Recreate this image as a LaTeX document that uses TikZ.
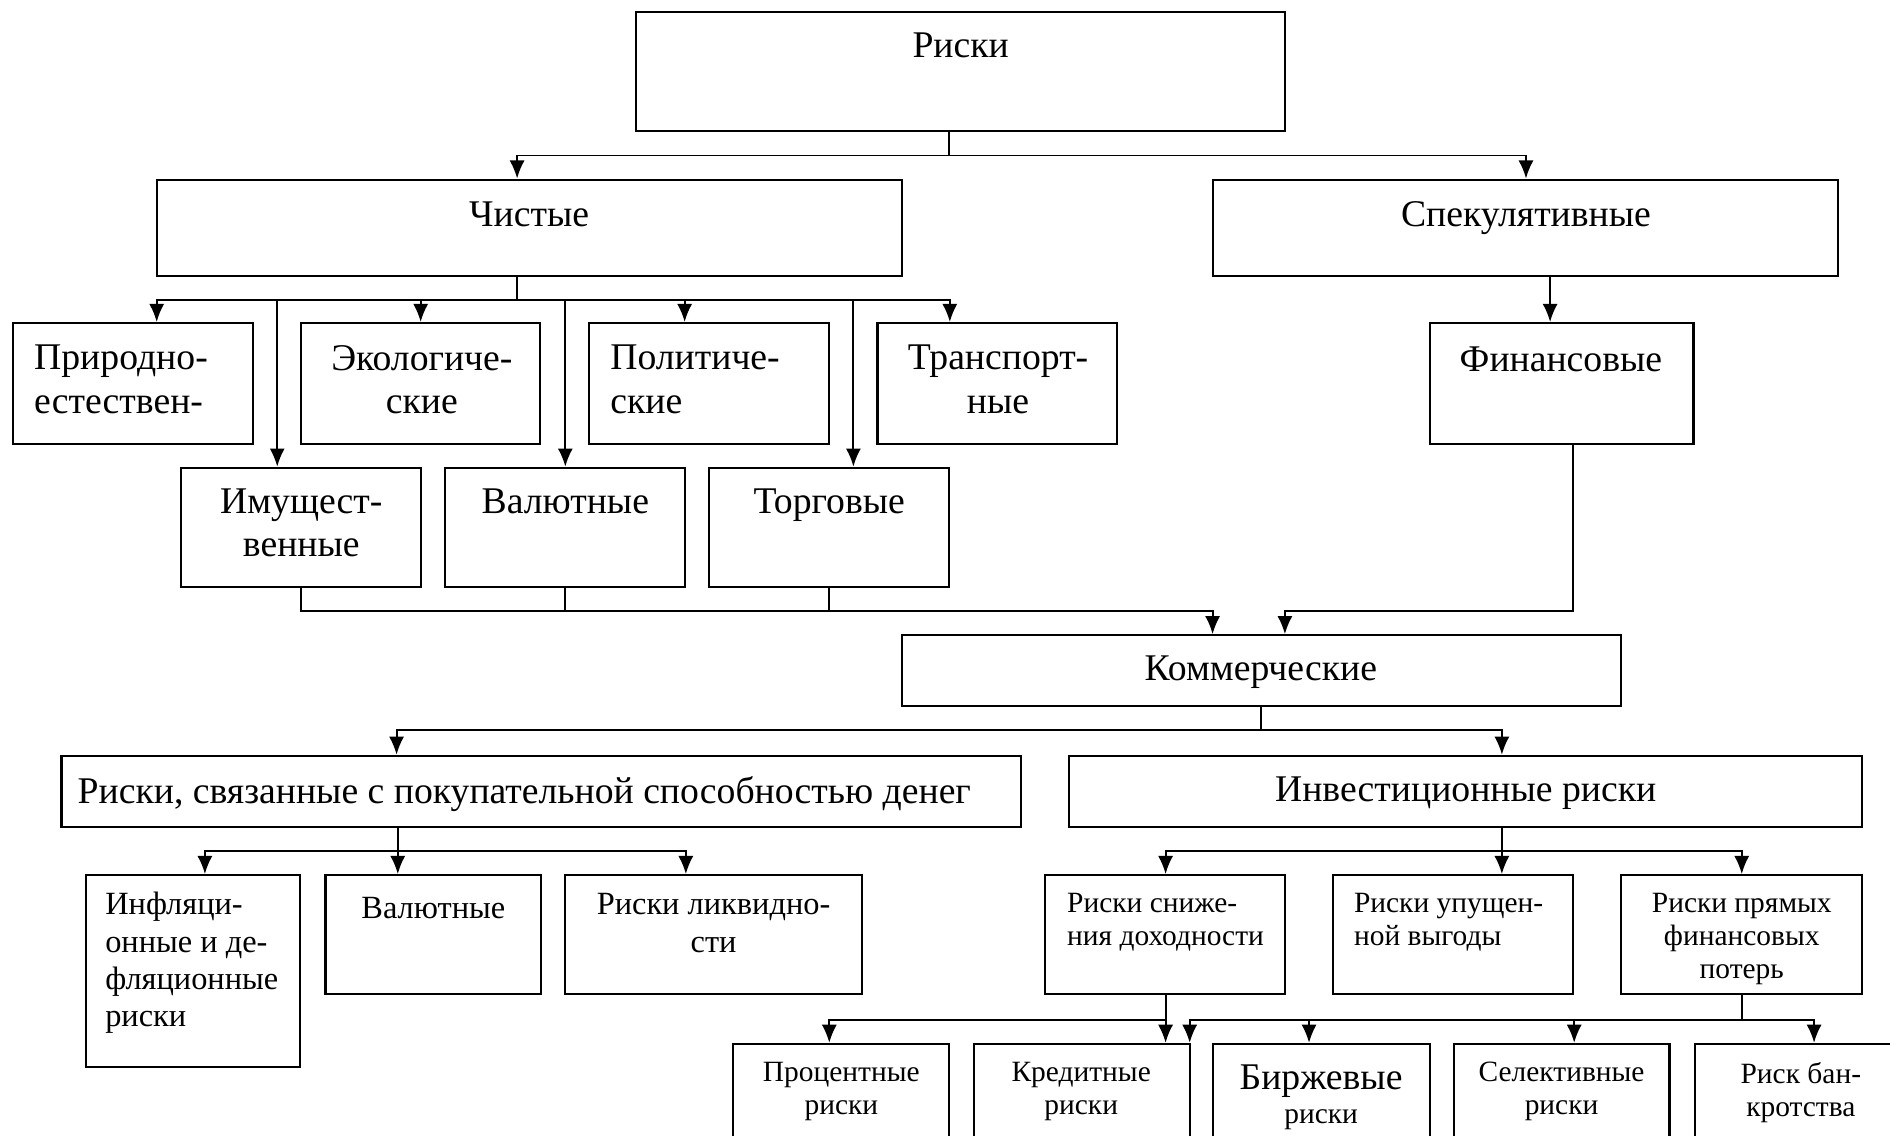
\documentclass[tikz,border=0pt]{standalone}
\usepackage{fontspec}
\setmainfont{Liberation Serif}
\usetikzlibrary{fit,arrows.meta}
\newcommand\fontLg{\fontsize{17.8}{20.4}\selectfont}
\newcommand\fontMd{\fontsize{15.3}{17.6}\selectfont}
\newcommand\fontSm{\fontsize{13.9}{15.6}\selectfont}
\begin{document}
\begin{tikzpicture}[x=0.02cm,y=-0.02cm,
  bx/.style={draw, line width=1pt, inner sep=0pt, fit={#1}},
  ln/.style={line width=0.9pt},
  ar/.style={line width=0.9pt, -{Latex[length=3mm,width=2.5mm]}},
  tL/.style={inner sep=0pt, font=\fontLg},
  tM/.style={inner sep=0pt, font=\fontMd},
  tS/.style={inner sep=0pt, font=\fontSm}]
\path[use as bounding box, fill=white] (0,0) rectangle (1568,942);
\clip (0,0) rectangle (1568,942);
% boxes
\node[bx={(528,10) (1066,109)}] (risks) {};
\node[bx={(130,149) (748,229)}] (clean) {};
\node[bx={(1006,149) (1525,229)}] (spec) {};
\node[bx={(11,268) (210,368)}] (nat) {};
\node[bx={(250,268) (448,368)}] (eco) {};
\node[bx={(489,268) (688,368)}] (pol) {};
\node[bx={(728,268) (927,368)}] (trans) {};
\node[bx={(1186,268) (1405,368)}] (fin) {};
\node[bx={(150,388) (349,487)}] (prop) {};
\node[bx={(369,388) (568,487)}] (cur) {};
\node[bx={(588,388) (787,487)}] (trade) {};
\node[bx={(748,527) (1345,586)}] (comm) {};
\node[bx={(51,627) (847,686)}] (pur) {};
\node[bx={(887,627) (1545,686)}] (inv) {};
\node[bx={(71,726) (249,885)}] (infl) {};
\node[bx={(270,726) (449,825)}] (val2) {};
\node[bx={(469,726) (715,825)}] (liq) {};
\node[bx={(867,726) (1066,825)}] (dec) {};
\node[bx={(1106,726) (1305,825)}] (lost) {};
\node[bx={(1345,726) (1545,825)}] (dir) {};
\node[bx={(608,866) (787,965)}] (proc) {};
\node[bx={(808,866) (987,965)}] (cred) {};
\node[bx={(1006,866) (1186,965)}] (exch) {};
\node[bx={(1206,866) (1385,965)}] (sel) {};
\node[bx={(1406,866) (1585,965)}] (bank) {};
% texts
\node[tL, anchor=north] (t1) at (797,27) {Риски};
\node[tL, anchor=north] (t2) at (439,167) {Чистые};
\node[tL, anchor=north] (t3) at (1266,167) {Спекулятивные};
\node[tL, anchor=north west, align=left] (t4) at (28,286) {Природно-\\естествен-};
\node[tL, anchor=north, align=center] (t5) at (350,286) {Экологиче-\\ские};
\node[tL, anchor=north west, align=left] (t6) at (506,286) {Политиче-\\ские};
\node[tL, anchor=north, align=center] (t7) at (828,286) {Транспорт-\\ные};
\node[tL, anchor=north] (t8) at (1295,287) {Финансовые};
\node[tL, anchor=north, align=center] (t9) at (250,405) {Имущест-\\венные};
\node[tL, anchor=north] (t10) at (469,405) {Валютные};
\node[tL, anchor=north] (t11) at (688,405) {Торговые};
\node[tL, anchor=north] (t12) at (1046,544) {Коммерческие};
\node[tL, anchor=north] (t13) at (435,644) {Риски, связанные с покупательной способностью денег};
\node[tL, anchor=north] (t14) at (1216,644) {Инвестиционные риски};
\node[tM, anchor=north west, align=left] (t15) at (87,740) {Инфляци-\\онные и де-\\фляционные\\риски};
\node[tM, anchor=north] (t16) at (359.5,744) {Валютные};
\node[tM, anchor=north, align=center] (t17) at (592,741) {Риски ликвидно-\\сти};
\node[tS, anchor=north west, align=left] (t18) at (885,741) {Риски сниже-\\ния доходности};
\node[tS, anchor=north west, align=left] (t19) at (1123,741) {Риски упущен-\\ной выгоды};
\node[tS, anchor=north, align=center] (t20) at (1445,741) {Риски прямых\\финансовых\\потерь};
\node[tS, anchor=north, align=center] (t21) at (698,881) {Процентные\\риски};
\node[tS, anchor=north, align=center] (t22) at (897,881) {Кредитные\\риски};
\node[tL, anchor=north] (t23) at (1096,883) {Биржевые};
\node[tS, anchor=base] (t24) at (1096,932) {риски};
\node[tS, anchor=north, align=center] (t25) at (1295.5,881) {Селективные\\риски};
\node[tS, anchor=north, align=center] (t26) at (1494,881) {Риск бан-\\кротства};
% junction coordinates
\coordinate (j0) at (787,129);
\coordinate (j0l) at (429,129);
\coordinate (j0r) at (1266,129);
\coordinate (j1) at (429,249);
\coordinate (j1a) at (130,249);
\coordinate (j1b) at (230,249);
\coordinate (j1c) at (349,249);
\coordinate (j1d) at (469,249);
\coordinate (j1e) at (568,249);
\coordinate (j1f) at (708,249);
\coordinate (j1g) at (788,249);
\coordinate (s1) at (1286,249);
\coordinate (k1) at (250,507);
\coordinate (k2) at (469,507);
\coordinate (k3) at (688,507);
\coordinate (k4) at (1006,507);
\coordinate (f1) at (1305,507);
\coordinate (f2) at (1066,507);
\coordinate (m0) at (1046,606);
\coordinate (m1) at (329,606);
\coordinate (m2) at (1246,606);
\coordinate (p0) at (330,706);
\coordinate (p1) at (170,706);
\coordinate (p2) at (569,706);
\coordinate (i0) at (1246,706);
\coordinate (i1) at (967,706);
\coordinate (i2) at (1445,706);
\coordinate (d0) at (967,846);
\coordinate (d1) at (688,846);
\coordinate (r0) at (1445,846);
\coordinate (r1) at (987,846);
\coordinate (r2) at (1086,846);
\coordinate (r3) at (1306,846);
\coordinate (r4) at (1505,846);
% connectors
\draw[ln] (risks.south -| j0) -- (j0);
\draw[ar] (j0) -| (clean.north -| j0l);
\draw[ar] (j0) -| (spec.north -| j0r);
\draw[ln] (clean.south -| j1) -- (j1);
\draw[ar] (j1) -| (nat.north -| j1a);
\draw[ar] (j1) -| (trans.north -| j1g);
\draw[ar] (j1b) -- (prop.north -| j1b);
\draw[ar] (j1c) -- (eco.north -| j1c);
\draw[ar] (j1d) -- (cur.north -| j1d);
\draw[ar] (j1e) -- (pol.north -| j1e);
\draw[ar] (j1f) -- (trade.north -| j1f);
\draw[ar] (spec.south -| s1) -- (fin.north -| s1);
\draw[ar] (prop.south -| k1) |- (k4) -- (comm.north -| k4);
\draw[ln] (cur.south -| k2) -- (k2);
\draw[ln] (trade.south -| k3) -- (k3);
\draw[ar] (fin.south -| f1) |- (f2) -- (comm.north -| f2);
\draw[ln] (comm.south -| m0) -- (m0);
\draw[ar] (m0) -| (pur.north -| m1);
\draw[ar] (m0) -| (inv.north -| m2);
\draw[ar] (pur.south -| p0) -- (val2.north -| p0);
\draw[ar] (p0) -| (infl.north -| p1);
\draw[ar] (p0) -| (liq.north -| p2);
\draw[ar] (inv.south -| i0) -- (lost.north -| i0);
\draw[ar] (i0) -| (dec.north -| i1);
\draw[ar] (i0) -| (dir.north -| i2);
\draw[ar] (dec.south -| d0) -- (cred.north -| d0);
\draw[ar] (d0) -| (proc.north -| d1);
\draw[ln] (dir.south -| r0) -- (r0);
\draw[ar] (r0) -| (cred.north -| r1);
\draw[ar] (r2) -- (exch.north -| r2);
\draw[ar] (r3) -- (sel.north -| r3);
\draw[ar] (r0) -| (bank.north -| r4);
\end{tikzpicture}
\end{document}
